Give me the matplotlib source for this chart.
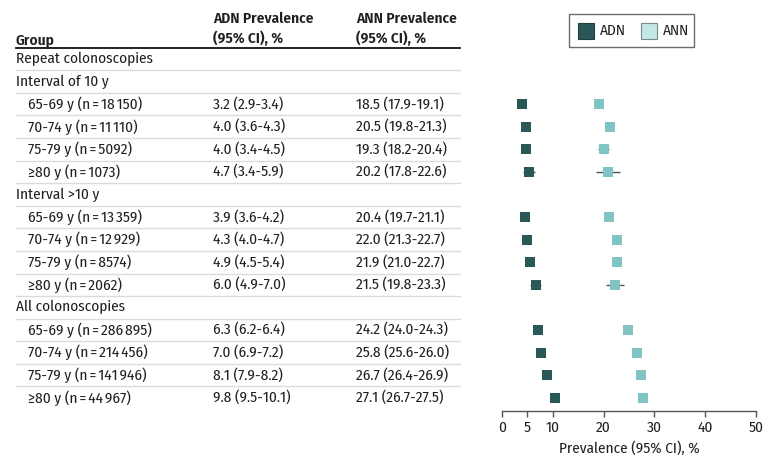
import matplotlib.pyplot as plt
import matplotlib.transforms as mtransforms
from matplotlib.patches import Rectangle
import numpy as np

plt.rcParams['font.family'] = ['Fira Sans Condensed', 'Lato', 'DejaVu Sans']

# table data
sections = ['Repeat colonoscopies', 'Interval of 10 y', 'Interval >10 y', 'All colonoscopies']
ages = ['65-69 y', '70-74 y', '75-79 y', '\u226580 y']
n_vals = [18150, 11110, 5092, 1073,
          13359, 12929, 8574, 2062,
          286895, 214456, 141946, 44967]

adn = [3.2, 4.0, 4.0, 4.7, 3.9, 4.3, 4.9, 6.0, 6.3, 7.0, 8.1, 9.8]
adn_lo = [2.9, 3.6, 3.4, 3.4, 3.6, 4.0, 4.5, 4.9, 6.2, 6.9, 7.9, 9.5]
adn_hi = [3.4, 4.3, 4.5, 5.9, 4.2, 4.7, 5.4, 7.0, 6.4, 7.2, 8.2, 10.1]

ann = [18.5, 20.5, 19.3, 20.2, 20.4, 22.0, 21.9, 21.5, 24.2, 25.8, 26.7, 27.1]
ann_lo = [17.9, 19.8, 18.2, 17.8, 19.7, 21.3, 21.0, 19.8, 24.0, 25.6, 26.4, 26.7]
ann_hi = [19.1, 21.3, 20.4, 22.6, 21.1, 22.7, 22.7, 23.3, 24.3, 26.0, 26.9, 27.5]

xticks = [0, 5, 10, 20, 30, 40, 50]

ADN_COL = '#2a5856'
ANN_COL = '#80c4c4'
TXT = '#231f20'


def fmt_n(n):
    s = '{:,}'.format(n)
    if n < 10000:
        s = s.replace(',', '')
    return s.replace(',', '\u2009')


# build rows: (text, indent, data index or None)
rows = [(sections[0], False, None), (sections[1], False, None)]
for i in range(4):
    rows.append((ages[i] + ' (n\u2009=\u2009' + fmt_n(n_vals[i]) + ')', True, i))
rows.append((sections[2], False, None))
for i in range(4, 8):
    rows.append((ages[i - 4] + ' (n\u2009=\u2009' + fmt_n(n_vals[i]) + ')', True, i))
rows.append((sections[3], False, None))
for i in range(8, 12):
    rows.append((ages[i - 8] + ' (n\u2009=\u2009' + fmt_n(n_vals[i]) + ')', True, i))

W, H = 780, 467
fig = plt.figure(figsize=(W / 100, H / 100), dpi=100)

# background axes in pixel coords for the table
bg = fig.add_axes([0, 0, 1, 1])
bg.set_xlim(0, W)
bg.set_ylim(H, 0)
bg.axis('off')

y0, dy = 59, 22.58
fs = 11

bg.text(16, 40, 'Group', fontsize=fs, fontweight='semibold', color=TXT, va='center')
bg.text(213, 19, 'ADN Prevalence', fontsize=fs, fontweight='semibold', color=TXT, va='center')
bg.text(213, 38, '(95% CI), %', fontsize=fs, fontweight='semibold', color=TXT, va='center')
bg.text(356, 19, 'ANN Prevalence', fontsize=fs, fontweight='semibold', color=TXT, va='center')
bg.text(356, 38, '(95% CI), %', fontsize=fs, fontweight='semibold', color=TXT, va='center')
bg.plot([16, 460], [47.5, 47.5], color='#111111', lw=1.3)

idx_rows = []
for r, (txt, indent, k) in enumerate(rows):
    y = y0 + r * dy
    bg.text(28 if indent else 16, y, txt, fontsize=fs, color=TXT, va='center')
    if k is not None:
        bg.text(213, y, '{:.1f} ({:.1f}-{:.1f})'.format(adn[k], adn_lo[k], adn_hi[k]),
                fontsize=fs, color=TXT, va='center')
        bg.text(356, y, '{:.1f} ({:.1f}-{:.1f})'.format(ann[k], ann_lo[k], ann_hi[k]),
                fontsize=fs, color=TXT, va='center')
        idx_rows.append(r)
    if r < len(rows) - 1:
        bg.plot([16, 460], [y + dy / 2, y + dy / 2], color='#dcdcd2', lw=1)

# legend drawn by hand
bg.add_patch(Rectangle((569, 14), 125, 33, fill=False, edgecolor='#6d6d6d', lw=1))
bg.add_patch(Rectangle((578, 22.5), 16, 16.5, facecolor=ADN_COL, edgecolor='#1f403f', lw=0.8))
bg.text(600, 31, 'ADN', fontsize=fs, color=TXT, va='center')
bg.add_patch(Rectangle((641, 22.5), 16, 16.5, facecolor='#c3e7e5', edgecolor='#7a8a8a', lw=0.8))
bg.text(663, 31, 'ANN', fontsize=fs, color=TXT, va='center')

# forest plot
ax_bottom = 410.7
ax_top = 47
ax = fig.add_axes([502 / W, (H - ax_bottom) / H, 254 / W, (ax_bottom - ax_top) / H])
ax.set_xlim(0, 50)
ax.set_ylim((ax_bottom - y0) / dy, (ax_top - y0) / dy)
ax.patch.set_alpha(0)

shift = ax.transData + mtransforms.ScaledTranslation(3.5 / 100, 0, fig.dpi_scale_trans)
ypos = np.array(idx_rows)
for vals, lo, hi, col in [(adn, adn_lo, adn_hi, ADN_COL), (ann, ann_lo, ann_hi, ANN_COL)]:
    ax.hlines(ypos, lo, hi, color='#555555', lw=1, transform=shift, zorder=2)
    ax.plot(vals, ypos, 's', color=col, markersize=6.8, markeredgewidth=0,
            transform=shift, zorder=3)

for s in ['top', 'right', 'left']:
    ax.spines[s].set_visible(False)
ax.spines['bottom'].set_color('#555555')
ax.spines['bottom'].set_linewidth(1)
ax.set_yticks([])
ax.set_xticks(xticks)
ax.tick_params(axis='x', length=4, width=1, color='#555555', labelsize=fs, labelcolor=TXT, pad=3)
ax.set_xlabel('Prevalence (95% CI), %', fontsize=fs, color=TXT, labelpad=5)

fig.savefig('out.png', dpi=100)
